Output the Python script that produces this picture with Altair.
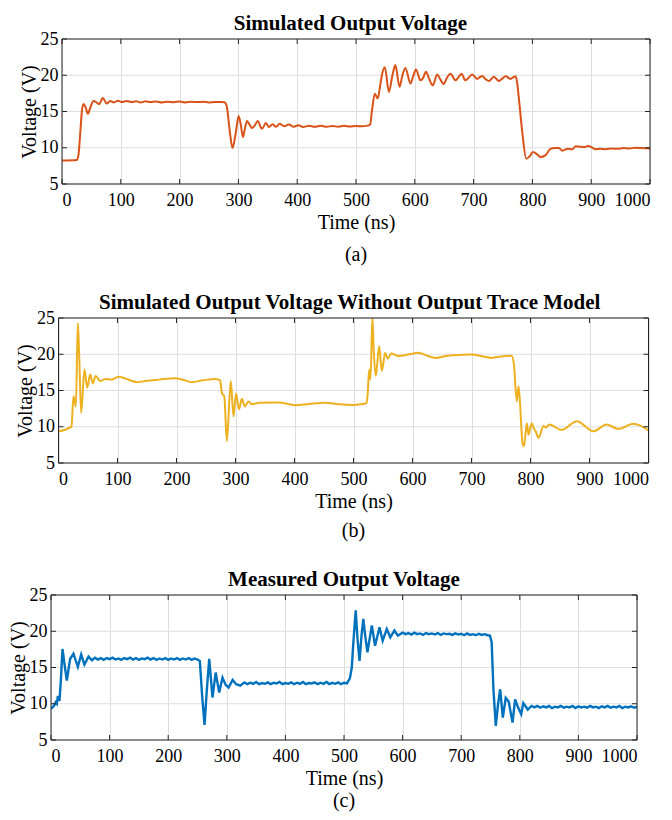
import altair as alt
import pandas as pd

FONT = "Liberation Serif"
AX = "#262626"
GRID = "#dedede"

x_ticks = [0, 100, 200, 300, 400, 500, 600, 700, 800, 900, 1000]
y_ticks = [5, 10, 15, 20, 25]

# ---------- (a) Simulated Output Voltage ----------
t_a = [0, 10, 20, 25, 28, 31, 34, 36.6, 40, 44,
       48, 53.6, 58, 63, 69.5, 76, 82, 88, 95, 102,
       110, 118, 126, 134, 142, 150, 160, 170, 180, 190,
       200, 210, 220, 230, 240, 250, 260, 270, 276, 280,
       285, 290, 295, 300.4, 304, 307.8, 311, 314.6, 319, 323,
       328, 333, 337, 340, 347, 352, 358, 364, 370, 378,
       386, 394, 402, 410, 420, 430, 440, 450, 460, 470,
       480, 490, 500, 510, 520, 524, 527, 532, 537, 541,
       544, 549, 556, 562, 567, 574, 579, 584, 592.7, 597,
       602, 609.6, 614, 619, 624, 630.6, 638, 643, 649, 655,
       660.8, 669, 674, 679.5, 686, 692, 697.6, 706, 710, 714.6,
       720, 726, 734.5, 743, 748, 754.5, 763, 767, 771.4, 774,
       777, 783, 789.5, 795, 801, 808, 814, 822, 831, 838,
       845, 851, 860, 868, 873.5, 880, 890, 895, 901, 907.5,
       915, 925, 935, 945, 955, 965, 975, 985, 1000]
v_a = [8.25, 8.25, 8.27, 8.3, 9.0, 12.0, 15.2, 16.05, 15.6, 14.7,
       15.5, 16.45, 16.3, 16.0, 16.85, 16.1, 16.45, 16.25, 16.5, 16.3,
       16.45, 16.3, 16.4, 16.25, 16.4, 16.3, 16.38, 16.25, 16.35, 16.28,
       16.38, 16.25, 16.35, 16.3, 16.35, 16.25, 16.32, 16.3, 16.28, 15.8,
       12.5, 9.97, 11.8, 14.38, 13.2, 11.48, 12.6, 13.69, 13.2, 12.72,
       13.1, 13.69, 13.0, 12.62, 13.4, 12.85, 13.25, 12.9, 13.3, 12.95,
       13.2, 12.9, 13.1, 12.85, 13.05, 12.9, 13.05, 12.9, 13.0, 12.9,
       13.02, 12.92, 13.0, 12.95, 13.05, 13.2, 15.0, 17.46, 16.8, 18.5,
       20.0, 21.1, 17.7, 20.0, 21.4, 18.4, 20.0, 21.0, 18.85, 19.8,
       20.8, 19.3, 19.6, 20.5, 19.6, 18.6, 20.1, 19.5, 18.8, 19.7,
       20.2, 19.3, 19.7, 20.2, 19.3, 19.7, 20.1, 19.5, 19.7, 19.9,
       19.5, 19.2, 19.8, 19.2, 19.5, 19.85, 19.5, 19.7, 19.85, 19.0,
       16.8, 12.0, 8.49, 8.8, 9.41, 9.1, 8.72, 8.95, 9.87, 9.95,
       9.97, 9.6, 9.87, 9.8, 10.2, 10.15, 10.1, 10.25, 10.05, 9.8,
       9.85, 9.8, 9.9, 9.85, 9.95, 9.9, 10.0, 9.95, 9.9]

# ---------- (b) Without Output Trace Model ----------
t_b = [0, 10, 20, 22, 25.4, 29.4, 32.8, 35, 38.4, 44,
       48.6, 53.7, 58, 63, 70.6, 80, 90, 101.7, 115, 132.8,
       150, 170, 197.7, 212, 226, 245, 265.5, 274, 277, 281,
       285.3, 292, 296.6, 301, 306, 310.7, 316, 322, 327.7, 340,
       373, 401, 425, 452, 475, 497, 515, 522, 524, 526.6,
       528.8, 532, 534, 537.8, 543.5, 548, 553.7, 558, 564, 576.6,
       595, 610, 625, 638.5, 660, 680, 700.5, 720, 734, 750,
       768, 772, 776.8, 779.7, 782, 786.4, 789, 793.8, 796.6, 802,
       805, 809.6, 813.6, 822, 826, 831.6, 853, 878.5, 906.8, 929,
       949, 974.6, 1000]
v_b = [9.38, 9.55, 9.9, 10.0, 14.2, 12.8, 24.3, 20.0, 11.9, 17.9,
       15.4, 17.2, 16.0, 17.0, 16.3, 16.6, 16.5, 16.9, 16.6, 16.15,
       16.35, 16.5, 16.7, 16.45, 16.15, 16.4, 16.6, 16.4, 14.6, 14.2,
       8.0, 16.3, 11.45, 14.6, 12.38, 13.85, 12.8, 13.5, 13.1, 13.3,
       13.35, 12.97, 13.15, 13.3, 13.1, 13.0, 13.15, 13.25, 14.5, 17.9,
       16.5, 25.2, 21.0, 17.0, 21.1, 17.7, 20.2, 19.4, 20.1, 19.75,
       20.0, 20.2, 19.8, 19.5, 19.8, 19.9, 19.95, 19.7, 19.5, 19.7,
       19.8, 18.5, 13.5, 15.6, 13.6, 7.76, 7.3, 10.5, 8.9, 10.5,
       9.9, 9.2, 8.46, 10.1, 9.9, 10.3, 9.56, 10.76, 9.38, 10.3,
       9.7, 10.4, 9.5]

# ---------- (c) Measured Output Voltage ----------
t_c = [0, 2, 5, 8, 10, 11.7, 14.5, 17, 19.6, 23,
       27, 30, 32.7, 38.4, 42, 45.8, 51.5, 57, 64, 70,
       75, 80, 85, 90, 95, 100, 105, 110, 115, 120,
       125, 130, 135, 140, 145, 150, 155, 160, 165, 170,
       175, 180, 185, 190, 195, 200, 205, 210, 215, 220,
       225, 230, 235, 240, 245, 250, 254, 258, 262, 266,
       270, 275.6, 281, 287, 292.7, 298, 303, 310, 316, 323,
       330, 335, 340, 345, 350, 355, 360, 365, 370, 375,
       380, 385, 390, 395, 400, 405, 410, 415, 420, 425,
       430, 435, 440, 445, 450, 455, 460, 465, 470, 475,
       480, 485, 490, 495, 500, 505, 510, 513.3, 516, 520,
       523, 526.5, 530, 533, 536, 540, 547.5, 553, 560.6, 566,
       573, 579, 586, 592, 600, 605, 610, 615, 620, 625,
       630, 635, 640, 645, 650, 655, 660, 665, 670, 675,
       680, 685, 690, 695, 700, 705, 710, 715, 720, 725,
       730, 735, 740, 745, 749, 752, 755, 759, 763, 766.5,
       771, 776, 781, 787.6, 792, 797, 802.4, 806, 813.6, 820,
       825, 830, 835, 840, 845, 850, 855, 860, 865, 870,
       875, 880, 885, 890, 895, 900, 905, 910, 915, 920,
       925, 930, 935, 940, 945, 950, 955, 960, 965, 970,
       975, 980, 985, 990, 995, 1000]
v_c = [9.3, 9.47, 9.7, 10.2, 10.0, 11.1, 10.4, 13.5, 17.56, 15.5,
       13.2, 14.8, 16.2, 16.9, 16.0, 15.1, 16.8, 15.4, 16.5, 16.0,
       16.35, 16.1, 16.3, 16.05, 16.3, 16.15, 16.35, 16.1, 16.25, 16.05,
       16.3, 16.15, 16.35, 16.1, 16.3, 16.05, 16.25, 16.15, 16.35, 16.1,
       16.3, 16.05, 16.25, 16.1, 16.3, 16.05, 16.25, 16.1, 16.3, 16.05,
       16.25, 16.1, 16.3, 16.05, 16.25, 16.1, 15.9, 11.0, 7.08, 12.0,
       16.2, 10.86, 14.3, 11.55, 13.6, 12.6, 12.24, 13.3, 12.7, 12.5,
       12.95, 12.7, 12.9, 12.75, 13.0, 12.7, 12.85, 12.75, 12.95, 12.7,
       12.9, 12.8, 13.0, 12.7, 12.85, 12.75, 12.95, 12.7, 12.9, 12.75,
       13.0, 12.7, 12.85, 12.8, 12.95, 12.7, 12.9, 12.75, 13.0, 12.72,
       12.88, 12.75, 12.95, 12.7, 12.9, 12.8, 13.5, 15.0, 18.5, 22.9,
       19.0, 15.9, 19.5, 21.7, 19.5, 17.1, 20.8, 18.0, 20.55, 18.7,
       20.3, 19.17, 20.1, 19.4, 19.8, 19.6, 19.75, 19.55, 19.8, 19.6,
       19.7, 19.5, 19.75, 19.6, 19.7, 19.55, 19.75, 19.5, 19.7, 19.6,
       19.65, 19.5, 19.7, 19.55, 19.65, 19.45, 19.7, 19.5, 19.6, 19.45,
       19.65, 19.5, 19.6, 19.45, 19.4, 18.5, 12.0, 6.94, 10.0, 12.0,
       8.1, 10.8, 10.3, 7.4, 10.6, 9.5, 8.56, 10.1, 9.2, 9.7,
       9.5, 9.7, 9.45, 9.65, 9.5, 9.7, 9.4, 9.6, 9.5, 9.7,
       9.45, 9.6, 9.5, 9.7, 9.4, 9.65, 9.5, 9.6, 9.45, 9.7,
       9.5, 9.6, 9.4, 9.65, 9.5, 9.7, 9.45, 9.6, 9.5, 9.7,
       9.4, 9.6, 9.5, 9.65, 9.45, 9.6]


def panel(t, v, color, title, caption, pw, h, off, sw, interp, cap_dy, bottom_pad):
    w = pw + off
    mid = off + pw / 2
    df = pd.DataFrame({"t": t, "v": v})
    xs = alt.Scale(domain=[0, 1000], nice=False, zero=False, range=[off, w])
    ys = alt.Scale(domain=[5, 25], nice=False, zero=False)
    xax = alt.Axis(values=x_ticks, grid=True, ticks=False, domain=False,
                   labelPadding=7, title="Time (ns)", titlePadding=3, format="d",
                   titleX=mid, gridColor=GRID,
                   labelFont=FONT, titleFont=FONT, labelFontSize=18, titleFontSize=20,
                   labelColor="black", titleColor="black", titleFontWeight="normal")
    yax = alt.Axis(values=y_ticks, grid=False, ticks=False, domain=False,
                   labelPadding=4, title="Voltage (V)", titlePadding=1, offset=-off,
                   labelFont=FONT, titleFont=FONT, labelFontSize=18, titleFontSize=20,
                   labelColor="black", titleColor="black", titleFontWeight="normal")
    X = alt.X("t:Q", scale=xs, axis=xax)
    Y = alt.Y("v:Q", scale=ys, axis=yax)
    xt = pd.DataFrame({"t": x_ticks})
    yt = pd.DataFrame({"v": y_ticks})
    hgrid = alt.Chart(yt).mark_rule(color=GRID, strokeWidth=1).encode(
        y=Y, x=alt.value(off), x2=alt.value(w))
    line = alt.Chart(df).mark_line(color=color, strokeWidth=sw, clip=True,
                                   interpolate=interp).encode(x=X, y=Y)
    bot = alt.Chart(xt).mark_rule(color=AX, strokeWidth=1).encode(
        x=X, y=alt.value(h), y2=alt.value(h - 5))
    top = alt.Chart(xt).mark_rule(color=AX, strokeWidth=1).encode(
        x=X, y=alt.value(0), y2=alt.value(5))
    lft = alt.Chart(yt).mark_rule(color=AX, strokeWidth=1).encode(
        y=Y, x=alt.value(off), x2=alt.value(off + 5))
    rgt = alt.Chart(yt).mark_rule(color=AX, strokeWidth=1).encode(
        y=Y, x=alt.value(w - 5), x2=alt.value(w))
    one = pd.DataFrame({"c": [caption]})
    fl = alt.Chart(one).mark_rule(color=AX, strokeWidth=1).encode(
        x=alt.value(off), y=alt.value(0), y2=alt.value(h))
    fr = alt.Chart(one).mark_rule(color=AX, strokeWidth=1).encode(
        x=alt.value(w), y=alt.value(0), y2=alt.value(h))
    ft = alt.Chart(one).mark_rule(color=AX, strokeWidth=1).encode(
        y=alt.value(0), x=alt.value(off), x2=alt.value(w))
    fb = alt.Chart(one).mark_rule(color=AX, strokeWidth=1).encode(
        y=alt.value(h), x=alt.value(off), x2=alt.value(w))
    cap = alt.Chart(one).mark_text(
        font=FONT, fontSize=20, color="black", baseline="middle").encode(
        text="c:N", x=alt.value(mid), y=alt.value(h + cap_dy))
    layers = [hgrid, line, bot, top, lft, rgt, fl, fr, ft, fb, cap]
    if bottom_pad:
        pad = alt.Chart(one).mark_rule(color="white", strokeWidth=1).encode(
            x=alt.value(mid), y=alt.value(h + cap_dy + bottom_pad),
            y2=alt.value(h + cap_dy + bottom_pad + 1))
        layers.append(pad)
    return alt.layer(*layers).properties(
        width=w, height=h,
        title=alt.TitleParams(title, font=FONT, fontSize=21, fontWeight="bold",
                              offset=-4, color="black"))


pa = panel(t_a, v_a, "#D95319", "Simulated Output Voltage", "(a)", 588, 145, 11, 2, "monotone", 71, 0)
pb = panel(t_b, v_b, "#EDB120", "Simulated Output Voltage Without Output Trace Model", "(b)", 590, 145, 7.5, 2, "monotone", 68, 9)
pc = panel(t_c, v_c, "#0072BD", "Measured Output Voltage", "(c)", 586, 145, 0, 2.4, "linear", 61, 0)

chart = alt.vconcat(pa, pb, pc, spacing=27).properties(
    padding={"left": 0, "top": 5, "right": 5, "bottom": 2}
).configure(font=FONT).configure_view(strokeWidth=0).configure_axis(
    labelFont=FONT, titleFont=FONT, labelFontSize=18, titleFontSize=20,
    labelColor="black", titleColor="black", titleFontWeight="normal",
    gridColor=GRID, gridOpacity=1, gridWidth=1
).configure_title(anchor="middle", font=FONT)

chart.save("out.html", embed_options={"renderer": "svg", "actions": False})
